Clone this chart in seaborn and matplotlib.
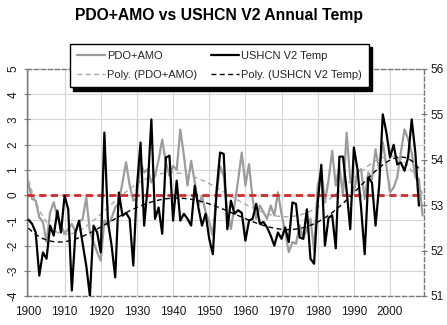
import numpy as np
import matplotlib
matplotlib.use("Agg")
import matplotlib.pyplot as plt
import seaborn as sns

# ---------------- data ----------------
start_year = 1900
# PDO+AMO index (left axis), 1900-2009
pdo_amo = [0.44, -0.15, -0.22, -0.88, -1.07, -1.86, -0.68, -0.28, -0.88, -1.2,
           -1.53, -1.34, -1.14, -1.47, -1.07, -0.94, -0.1, -1.47, -1.86, -2.26,
           -2.6, -1.0, -1.2, -0.9, -0.5, -0.3, 0.5, 1.3, 0.38, -0.22,
           -0.1, 1.3, 0.9, 1.03, 0.5, 0.77, 1.4, 2.2, 1.3, 0.77,
           1.16, 1.0, 2.6, 1.56, 0.38, 1.36, 0.5, -0.41, -0.02, -0.68,
           -1.07, -1.6, 0.0, 1.16, 0.77, -0.68, -1.34, -0.41, 0.6, 1.69,
           0.38, 1.23, -0.15, -0.94, -0.41, -0.68, -0.94, -0.41, -0.81, 0.11,
           -0.74, -1.47, -2.26, -1.86, -1.93, -1.2, -1.73, -1.34, -0.94, -2.2,
           0.38, 0.97, -0.28, 0.6, 1.76, 0.38, 1.16, -0.02, 2.48, 0.64,
           0.11, 0.9, 1.03, -0.15, 0.9, 0.64, 1.82, 1.0, 2.09, 1.16,
           0.11, 0.3, 0.7, 1.69, 2.61, 2.22, 1.69, 0.7, 0.64, -0.81]
# USHCN V2 annual temperature, deg F (right axis), 1900-2008
ushcn = [52.68, 52.59, 52.40, 51.45, 51.96, 51.82, 52.55, 52.33, 52.88, 52.40,
         53.21, 52.91, 51.12, 52.40, 52.66, 52.15, 51.66, 51.00, 52.55, 52.40,
         51.96, 54.60, 52.63, 52.11, 51.41, 53.28, 52.77, 52.83, 52.70, 51.67,
         53.39, 54.38, 52.55, 53.43, 54.89, 52.70, 52.95, 52.37, 54.05, 54.09,
         52.66, 53.54, 52.66, 52.81, 52.70, 52.55, 53.43, 52.95, 52.55, 52.81,
         52.26, 51.92, 53.28, 54.16, 54.13, 52.47, 53.10, 52.81, 52.89, 52.83,
         52.22, 52.66, 52.70, 53.03, 52.59, 52.63, 52.51, 52.33, 52.11, 52.40,
         52.26, 52.51, 52.19, 53.06, 53.03, 52.29, 52.26, 52.91, 51.82, 51.71,
         53.05, 53.89, 52.11, 52.72, 52.78, 52.05, 54.07, 54.07, 53.33, 52.47,
         54.27, 53.79, 52.94, 51.92, 53.61, 53.50, 52.55, 53.43, 55.00, 54.60,
         54.05, 54.33, 53.90, 53.94, 53.76, 54.05, 54.89, 54.16, 52.99]

x_ticks = [1900, 1910, 1920, 1930, 1940, 1950, 1960, 1970, 1980, 1990, 2000]
left_ticks = [-4, -3, -2, -1, 0, 1, 2, 3, 4, 5]
right_ticks = [51, 52, 53, 54, 55, 56]
title = "PDO+AMO vs USHCN V2 Annual Temp"
labels = ["PDO+AMO", "Poly. (PDO+AMO)", "USHCN V2 Temp", "Poly. (USHCN V2 Temp)"]

years_p = np.arange(start_year, start_year + len(pdo_amo))
years_u = np.arange(start_year, start_year + len(ushcn))

# Excel-style polynomial trendlines (order 6, on category index)
def poly_trend(y, order=6):
    idx = np.arange(1, len(y) + 1, dtype=float)
    c = np.polyfit(idx, np.asarray(y, float), order)
    return np.polyval(c, idx)

trend_p = poly_trend(pdo_amo)
trend_u = poly_trend(ushcn)

# ---------------- figure ----------------
sns.set_style("white")
plt.rcParams["font.family"] = ["Liberation Sans Narrow", "Liberation Sans", "DejaVu Sans"]

fig = plt.figure(figsize=(4.47, 3.25), dpi=100)
ax = fig.add_axes([27 / 447, 1 - 296 / 325, 397 / 447, 227 / 325])
ax2 = ax.twinx()

grey = "#9c9c9c"
sns.lineplot(x=years_p, y=pdo_amo, ax=ax, color=grey, lw=1.6, label=labels[0], legend=False)
sns.lineplot(x=years_p, y=trend_p, ax=ax, color="#a8a8a8", lw=1.0,
             linestyle=(0, (3.5, 2.5)), label=labels[1], legend=False)
ax.axhline(0, color="#d42a2a", lw=2.0, linestyle=(0, (2.6, 1.6)), zorder=4)

sns.lineplot(x=years_u, y=ushcn, ax=ax2, color="black", lw=1.6, label=labels[2], legend=False)
sns.lineplot(x=years_u, y=trend_u, ax=ax2, color="black", lw=1.0,
             linestyle=(0, (3.5, 2.5)), label=labels[3], legend=False)

ax.set_xlim(1899.6, 2009.4)
ax.set_ylim(-4, 5)
ax2.set_ylim(51, 56)
ax.set_xticks(x_ticks)
ax.set_xticklabels([str(t) for t in x_ticks])
ax.set_yticks(left_ticks)
ax.set_yticklabels([str(t) for t in left_ticks], rotation=90, va="center")
ax2.set_yticks(right_ticks)
ax2.set_yticklabels([str(t) for t in right_ticks])
ax.set_xlabel("")
ax.set_ylabel("")
ax2.set_ylabel("")

ax.grid(True, color="#d6d6d6", lw=0.8)
ax.set_axisbelow(True)

spine_col = "#7a7a7a"
for s in ["top", "bottom", "right"]:
    ax.spines[s].set_visible(s != "right")
    ax.spines[s].set_color(spine_col)
    ax.spines[s].set_linestyle((0, (3, 2)))
    ax.spines[s].set_linewidth(1.0)
ax.spines["left"].set_color(spine_col)
ax.spines["left"].set_linewidth(1.0)
for s in ["top", "bottom", "left"]:
    ax2.spines[s].set_visible(False)
ax2.spines["right"].set_color(spine_col)
ax2.spines["right"].set_linestyle((0, (3, 2)))
ax2.spines["right"].set_linewidth(1.0)

tick_kw = dict(direction="inout", length=5, width=0.8, color=spine_col,
               labelcolor="#1a1a1a", labelsize=8.5)
ax.tick_params(axis="x", pad=5, **tick_kw)
ax.tick_params(axis="y", left=True, pad=3, **tick_kw)
ax2.tick_params(axis="y", right=True, pad=2, **tick_kw)

fig.text(0.489, 0.953, title, ha="center", va="center", fontsize=11.3,
         fontweight="bold", color="black")

h1, _ = ax.get_legend_handles_labels()
h2, _ = ax2.get_legend_handles_labels()
handles = [h1[0], h1[1], h2[0], h2[1]]
leg = fig.legend(handles, labels, ncol=2, loc="upper left",
                 bbox_to_anchor=(70 / 447, 1 - 92 / 325, 299 / 447, 48 / 325),
                 mode="expand", fontsize=8, handlelength=2.5, handletextpad=0.2,
                 labelspacing=0.85, borderpad=0.62, borderaxespad=0.0, fancybox=False,
                 frameon=True, edgecolor="black", facecolor="white", framealpha=1,
                 shadow={"ox": 2.5, "oy": -2.5, "facecolor": "black",
                         "edgecolor": "black", "alpha": 1.0})
leg.get_frame().set_linewidth(1.0)
leg.set_zorder(10)

fig.savefig("out.png", dpi=100)
